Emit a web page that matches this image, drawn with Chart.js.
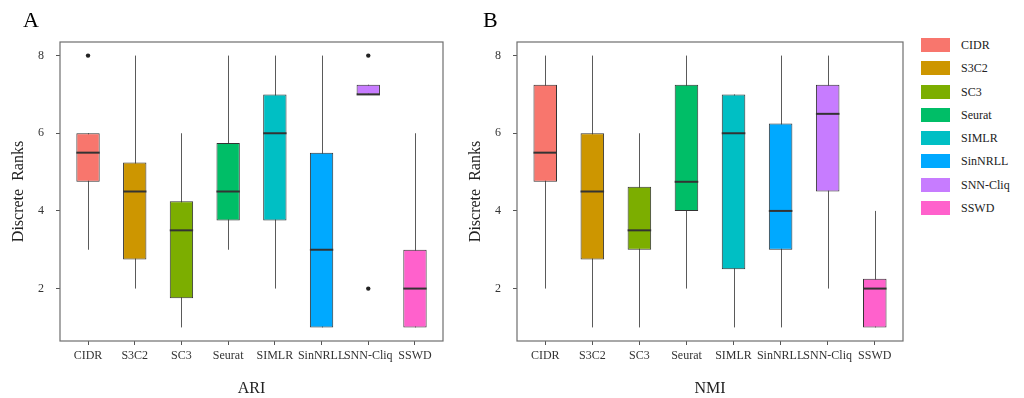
<!DOCTYPE html>
<html>
<head>
<meta charset="utf-8">
<script src="https://cdn.jsdelivr.net/npm/chart.js@4/dist/chart.umd.min.js"></script>
<style>
  html, body { margin: 0; padding: 0; background: #fff; }
  #wrap { position: relative; width: 1024px; height: 398px; background: #fff; overflow: hidden;
          font-family: 'Liberation Serif', 'Times New Roman', serif; color: #000; }
  canvas { position: absolute; top: 0; }
  .panel { position: absolute; font-size: 22px; line-height: 22px; }
  .lkey { position: absolute; width: 29px; height: 14px; }
  .ltxt { position: absolute; font-size: 12px; line-height: 14px; color: #222; white-space: nowrap; }
</style>
</head>
<body>
<div id="wrap">
  <canvas id="cA" width="450" height="398" style="left:0px"></canvas>
  <canvas id="cB" width="460" height="398" style="left:450px"></canvas>
  <div class="panel" style="left:23px; top:9px">A</div>
  <div class="panel" style="left:483px; top:9px">B</div>
  <div id="legend"></div>
</div>
<script>
// ---- data ----
const categories = ['CIDR', 'S3C2', 'SC3', 'Seurat', 'SIMLR', 'SinNRLL', 'SNN-Cliq', 'SSWD'];
const colors = ['#F8766D', '#CD9600', '#7CAE00', '#00BE67', '#00BFC4', '#00A9FF', '#C77CFF', '#FF61CC'];
const yTicks = [2, 4, 6, 8];

// ARI panel
const ariLow  = [3, 2, 1, 3, 2, 1, 7, 1];
const ariQ1   = [4.75, 2.75, 1.75, 3.75, 3.75, 1, 7, 1];
const ariMed  = [5.5, 4.5, 3.5, 4.5, 6, 3, 7, 2];
const ariQ3   = [6, 5.25, 4.25, 5.75, 7, 5.5, 7.25, 3];
const ariHigh = [6, 8, 6, 8, 8, 8, 7.25, 6];
const ariOutCat = ['CIDR', 'SNN-Cliq', 'SNN-Cliq'];
const ariOutVal = [8, 8, 2];

// NMI panel
const nmiLow  = [2, 1, 1, 2, 1, 1, 2, 1];
const nmiQ1   = [4.75, 2.75, 3, 4, 2.5, 3, 4.5, 1];
const nmiMed  = [5.5, 4.5, 3.5, 4.75, 6, 4, 6.5, 2];
const nmiQ3   = [7.25, 6, 4.625, 7.25, 7, 6.25, 7.25, 2.25];
const nmiHigh = [8, 8, 6, 8, 7, 8, 8, 4];
const nmiOutCat = [];
const nmiOutVal = [];

Chart.defaults.font.family = "'Liberation Serif', 'Times New Roman', serif";
Chart.defaults.color = '#333';

function makeBoxPlugin(low, med, high) {
  return {
    id: 'boxparts',
    beforeDatasetsDraw(chart) {
      const ctx = chart.ctx, xs = chart.scales.x, ys = chart.scales.y;
      ctx.save();
      ctx.strokeStyle = '#5a5a5a';
      ctx.lineWidth = 1;
      low.forEach((lo, i) => {
        const x = Math.round(xs.getPixelForValue(i)) + 0.5;
        ctx.beginPath();
        ctx.moveTo(x, ys.getPixelForValue(lo));
        ctx.lineTo(x, ys.getPixelForValue(high[i]));
        ctx.stroke();
      });
      ctx.restore();
    },
    afterDatasetsDraw(chart) {
      const ctx = chart.ctx, ys = chart.scales.y;
      const meta = chart.getDatasetMeta(0);
      ctx.save();
      ctx.strokeStyle = '#333';
      ctx.lineWidth = 2;
      med.forEach((m, i) => {
        const bar = meta.data[i];
        const y = ys.getPixelForValue(m);
        ctx.beginPath();
        ctx.moveTo(bar.x - bar.width / 2, y);
        ctx.lineTo(bar.x + bar.width / 2, y);
        ctx.stroke();
      });
      // panel border
      const a = chart.chartArea;
      ctx.strokeStyle = '#6e6e6e';
      ctx.lineWidth = 1.2;
      ctx.strokeRect(a.left, a.top, a.right - a.left, a.bottom - a.top);
      ctx.restore();
    }
  };
}

function makeChart(id, xTitle, yAxisWidth, yTitlePad, q1, q3, low, med, high, outCat, outVal) {
  const ctx = document.getElementById(id).getContext('2d');
  return new Chart(ctx, {
    data: {
      datasets: [
        {
          type: 'bar',
          data: categories.map((c, i) => ({ x: i, y: [q1[i], q3[i]] })),
          backgroundColor: colors,
          borderColor: '#333',
          borderWidth: 1,
          borderSkipped: false,
          barPercentage: 0.5,
          categoryPercentage: 1,
          order: 2
        },
        {
          type: 'scatter',
          data: outCat.map((c, k) => ({ x: categories.indexOf(c), y: outVal[k] })),
          pointRadius: 2.2,
          pointBackgroundColor: '#222',
          pointBorderWidth: 0,
          order: 1
        }
      ]
    },
    options: {
      responsive: false,
      animation: false,
      events: [],
      layout: { padding: { top: 42, right: 7, bottom: 0, left: 0 } },
      plugins: { legend: { display: false }, tooltip: { enabled: false } },
      scales: {
        x: {
          type: 'linear',
          offset: false,
          min: -0.6,
          max: categories.length - 0.4,
          afterBuildTicks: (s) => { s.ticks = categories.map((c, i) => ({ value: i })); },
          afterFit: (s) => { s.height = 57; },
          ticks: {
            autoSkip: false, maxRotation: 0, minRotation: 0, padding: 4,
            font: { size: 12 }, color: '#333',
            callback: (v) => categories[v]
          },
          grid: { offset: false, drawOnChartArea: false, drawTicks: true, tickLength: 4, color: '#555' },
          border: { display: false },
          title: { display: true, text: xTitle, font: { size: 16, lineHeight: 1 }, color: '#222', padding: { top: 0, bottom: 1 } }
        },
        y: {
          type: 'linear',
          min: 0.65,
          max: 8.35,
          afterBuildTicks: (s) => { s.ticks = yTicks.map(v => ({ value: v })); },
          afterFit: (s) => { s.width = yAxisWidth; },
          ticks: { padding: 12, font: { size: 12 }, color: '#333' },
          grid: { drawOnChartArea: false, drawTicks: true, tickLength: 4, color: '#555' },
          border: { display: false },
          title: { display: true, text: 'Discrete  Ranks', font: { size: 16, lineHeight: 1 }, color: '#222', padding: { top: yTitlePad, bottom: 0 } }
        }
      }
    },
    plugins: [makeBoxPlugin(low, med, high)]
  });
}

makeChart('cA', 'ARI', 60, 11, ariQ1, ariQ3, ariLow, ariMed, ariHigh, ariOutCat, ariOutVal);
makeChart('cB', 'NMI', 67, 18, nmiQ1, nmiQ3, nmiLow, nmiMed, nmiHigh, nmiOutCat, nmiOutVal);

// legend
const leg = document.getElementById('legend');
categories.forEach((c, i) => {
  const cy = 45 + i * 23.25;
  const k = document.createElement('div');
  k.className = 'lkey';
  k.style.left = '921px';
  k.style.top = (cy - 7) + 'px';
  k.style.background = colors[i];
  leg.appendChild(k);
  const t = document.createElement('div');
  t.className = 'ltxt';
  t.style.left = '961px';
  t.style.top = (cy - 7) + 'px';
  t.textContent = c;
  leg.appendChild(t);
});
</script>
</body>
</html>
